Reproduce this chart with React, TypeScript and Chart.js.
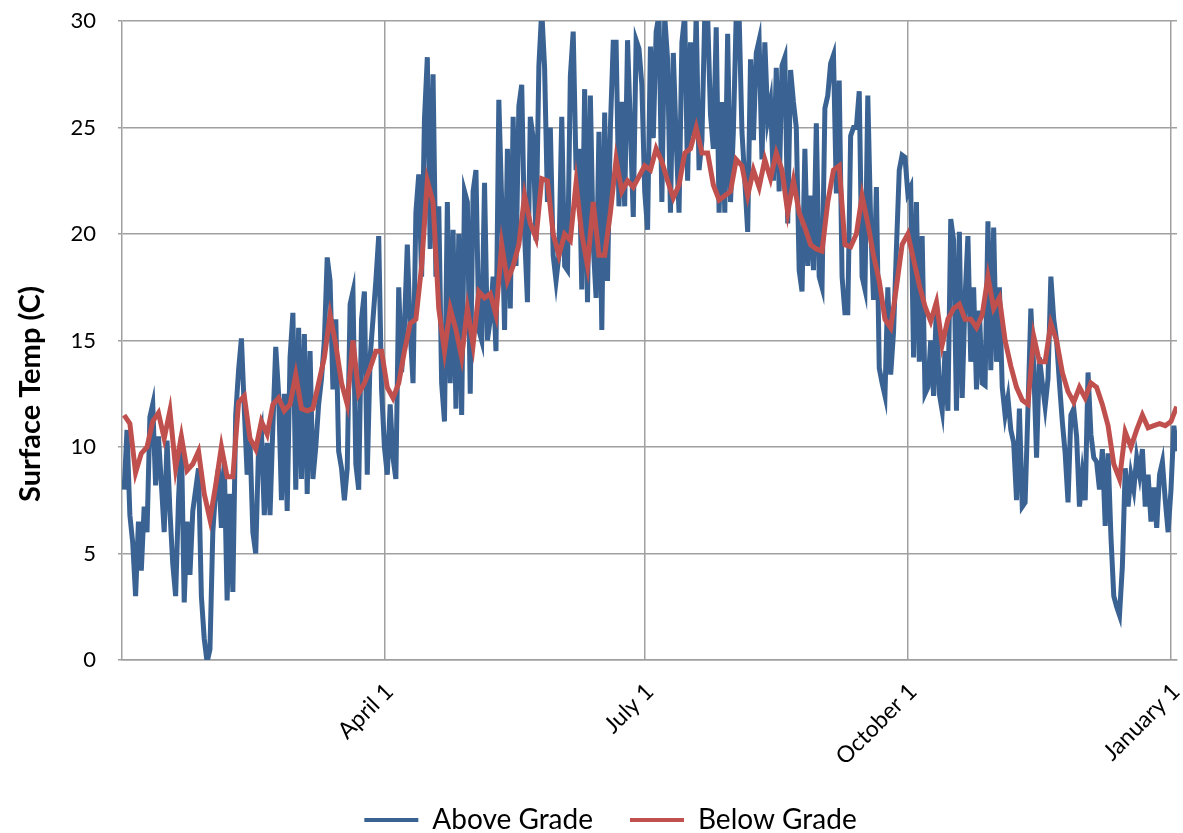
import { useEffect, useRef } from 'react';
import { Chart, registerables } from 'chart.js';

Chart.register(...registerables);

const FONT = 'Lato, "Open Sans", "DejaVu Sans", sans-serif';

// Day-of-year sampling (day 0 = January 1)
const ABOVE_START_DAY = -1;
const ABOVE_STEP_DAYS = 1;
const BELOW_START_DAY = -1;
const BELOW_STEP_DAYS = 2;

const seriesNames = ['Above Grade', 'Below Grade'];
const seriesColors = ['#3A6393', '#C0504D'];
const yAxisTitle = 'Surface Temp (C)';

const xTickDays = [90, 181, 273, 365];
const xTickLabels = ['April 1', 'July 1', 'October 1', 'January 1'];
const X_MIN_DAY = -1.75;
const X_MAX_DAY = 367.1;
const Y_MIN = 0;
const Y_MAX = 30;
const Y_STEP = 5;

// Above Grade surface temperature (C), one reading per day
const aboveGradeTemps = [
  8.0, 10.8, 6.8, 5.5, 3.0, 6.5, 4.2, 7.2, 6.0, 11.4,
  12.0, 8.2, 10.5, 8.3, 6.0, 10.3, 7.0, 4.5, 3.0, 7.5,
  10.5, 2.7, 6.5, 4.0, 7.0, 8.0, 9.0, 3.0, 1.0, -0.1,
  0.5, 6.0, 8.0, 9.0, 6.2, 9.3, 2.8, 7.8, 3.2, 11.5,
  13.6, 15.1, 11.8, 8.7, 10.3, 6.0, 5.0, 10.0, 10.7, 6.8,
  10.2, 6.8, 11.0, 14.7, 12.5, 7.5, 12.5, 7.0, 14.2, 16.3,
  8.0, 15.6, 8.5, 15.3, 7.8, 14.5, 8.5, 10.0, 12.0, 13.2,
  15.0, 18.9, 17.8, 12.7, 16.0, 9.8, 9.0, 7.5, 9.0, 16.7,
  17.3, 9.2, 8.0, 16.0, 17.3, 8.7, 14.2, 16.0, 17.8, 19.9,
  12.7, 10.0, 8.7, 12.0, 9.5, 8.5, 17.5, 13.5, 15.7, 19.5,
  15.5, 13.0, 21.0, 22.8, 18.0, 25.4, 28.3, 19.3, 27.5, 18.0,
  21.3, 13.0, 11.2, 21.5, 13.0, 20.2, 11.8, 20.0, 11.5, 22.0,
  21.5, 12.5, 22.0, 23.0, 15.5, 15.0, 22.4, 15.0, 16.0, 18.0,
  14.5, 26.3, 21.5, 15.5, 24.0, 16.5, 25.5, 18.5, 26.0, 27.0,
  20.0, 16.8, 25.5, 24.5, 19.7, 27.9, 30.5, 27.8, 21.5, 25.0,
  19.0, 17.8, 19.0, 25.5, 18.5, 18.3, 27.4, 29.5, 23.0, 24.0,
  17.4, 26.8, 16.8, 26.5, 19.5, 17.0, 24.8, 15.5, 25.7, 17.8,
  25.0, 29.0, 29.0, 21.3, 26.2, 21.3, 29.1, 25.0, 20.8, 29.1,
  28.7, 27.0, 22.0, 20.2, 28.8, 24.5, 29.5, 30.3, 21.5, 30.2,
  28.2, 21.0, 28.5, 24.4, 21.0, 29.0, 30.3, 22.5, 29.0, 24.6,
  30.3, 23.0, 24.4, 30.3, 30.3, 25.6, 24.0, 29.7, 21.0, 26.2,
  21.0, 29.4, 21.5, 24.8, 30.3, 30.3, 24.8, 22.5, 20.1, 28.2,
  24.4, 28.5, 29.1, 23.5, 29.0, 25.4, 26.2, 22.5, 27.8, 22.0,
  27.9, 28.3, 20.5, 27.7, 26.2, 25.0, 18.3, 17.3, 24.0, 18.5,
  21.8, 18.3, 25.2, 18.0, 17.5, 25.9, 26.5, 28.0, 28.4, 21.9,
  27.2, 18.0, 16.3, 16.3, 24.6, 25.0, 25.0, 26.7, 18.0, 17.4,
  26.5, 20.5, 16.9, 22.2, 13.7, 13.0, 12.4, 17.5, 13.4, 15.4,
  19.3, 23.0, 23.7, 23.6, 21.9, 22.2, 14.2, 21.5, 14.0, 19.9,
  12.5, 12.8, 15.0, 12.4, 16.8, 12.5, 11.7, 14.5, 11.7, 20.7,
  19.7, 11.7, 20.1, 12.3, 17.0, 19.9, 14.0, 17.5, 12.7, 16.4,
  13.0, 12.9, 20.6, 13.6, 20.3, 14.0, 17.5, 12.8, 11.5, 12.3,
  10.8, 10.2, 7.5, 11.8, 7.2, 7.4, 11.8, 16.5, 13.8, 9.5,
  14.2, 13.0, 11.9, 13.2, 18.0, 16.0, 15.0, 13.0, 11.2, 9.7,
  7.4, 11.5, 11.8, 10.5, 7.2, 8.7, 7.5, 13.5, 10.6, 9.5,
  9.3, 8.0, 9.9, 6.3, 9.7, 5.8, 3.0, 2.5, 2.1, 4.4,
  9.0, 7.2, 8.7, 8.0, 9.5, 8.7, 9.9, 7.2, 8.7, 6.5,
  8.1, 6.2, 8.7, 9.3, 7.5, 6.0, 8.0, 11.0, 9.8,
];

// Below Grade surface temperature (C), one reading every two days
const belowGradeTemps = [
  11.5, 11.1, 8.8, 9.7, 10.0, 11.2, 11.6, 10.4, 11.7, 9.0,
  10.5, 8.9, 9.2, 9.8, 7.8, 6.6, 8.2, 10.0, 8.6, 8.6,
  12.1, 12.4, 10.4, 9.9, 11.2, 10.6, 12.0, 12.3, 11.7, 12.0,
  13.4, 11.8, 11.7, 11.8, 13.0, 14.2, 16.2, 14.8, 13.0, 12.0,
  15.0, 12.5, 13.0, 13.7, 14.5, 14.5, 12.8, 12.3, 13.0, 14.5,
  15.8, 16.0, 18.5, 22.5, 21.5, 16.5, 14.5, 16.5, 15.5, 14.2,
  16.5, 14.8, 17.3, 17.0, 17.2, 16.2, 19.5, 17.8, 18.5, 19.5,
  21.8, 20.5, 19.8, 22.6, 22.5, 20.0, 19.0, 20.0, 19.7, 22.4,
  20.0, 18.5, 21.5, 19.0, 19.0, 21.0, 23.5, 22.0, 22.5, 22.2,
  22.7, 23.2, 23.0, 24.0, 23.4, 22.5, 21.7, 22.3, 23.8, 24.0,
  25.0, 23.8, 23.8, 22.3, 21.6, 21.8, 22.0, 23.5, 23.2, 21.8,
  23.0, 22.2, 23.5, 22.6, 23.8, 23.0, 21.0, 22.5, 21.0, 20.3,
  19.5, 19.3, 19.2, 21.5, 23.0, 23.2, 19.5, 19.4, 20.0, 21.8,
  20.5, 19.0, 17.8, 16.0, 15.6, 17.5, 19.5, 20.0, 18.8, 17.6,
  16.6, 15.9, 16.8, 14.8, 16.0, 16.5, 16.7, 16.0, 16.0, 15.6,
  16.2, 18.0, 16.5, 17.0, 15.0, 13.8, 12.8, 12.2, 12.0, 15.2,
  14.0, 14.0, 15.8, 15.0, 13.5, 12.6, 12.1, 12.8, 12.3, 13.0,
  12.8, 12.0, 11.0, 9.2, 8.5, 10.7, 10.0, 10.8, 11.5, 10.9,
  11.0, 11.1, 11.0, 11.2, 11.9,
];

const toPoints = (temps: number[], start: number, step: number) =>
  temps.map((t, i) => ({ x: start + i * step, y: t }));

const yTitlePlugin = {
  id: 'yTitlePlugin',
  beforeDraw(chart: any) {
    // shift the legend row slightly right, as in the original layout
    if (chart.legend) chart.legend.left = 44;
  },
  afterDraw(chart: any) {
    const ctx = chart.ctx;
    ctx.save();
    ctx.translate(31, 394);
    ctx.rotate(-Math.PI / 2);
    ctx.font = `bold 29px ${FONT}`;
    ctx.fillStyle = '#000000';
    ctx.textAlign = 'center';
    ctx.textBaseline = 'middle';
    ctx.fillText(yAxisTitle, 0, 0);
    ctx.restore();
  },
};

export default function App() {
  const canvasRef = useRef<HTMLCanvasElement | null>(null);

  useEffect(() => {
    if (!canvasRef.current) return;
    const gridColor = '#A0A0A0';
    const chart = new Chart(canvasRef.current, {
      type: 'line',
      data: {
        datasets: [
          {
            label: seriesNames[0],
            data: toPoints(aboveGradeTemps, ABOVE_START_DAY, ABOVE_STEP_DAYS),
            borderColor: seriesColors[0],
            backgroundColor: seriesColors[0],
            borderWidth: 5,
            pointRadius: 0,
            tension: 0,
            order: 1,
          },
          {
            label: seriesNames[1],
            data: toPoints(belowGradeTemps, BELOW_START_DAY, BELOW_STEP_DAYS),
            borderColor: seriesColors[1],
            backgroundColor: seriesColors[1],
            borderWidth: 5,
            pointRadius: 0,
            tension: 0,
            order: 0,
          },
        ],
      },
      options: {
        responsive: false,
        animation: false,
        layout: { padding: { top: 21, right: 6, bottom: -11, left: 0 } },
        plugins: {
          tooltip: { enabled: false },
          legend: {
            position: 'bottom',
            labels: {
              font: { family: FONT, size: 28 },
              color: '#000000',
              boxWidth: 54,
              boxHeight: 4,
              padding: 37,
              sort: (a: any, b: any) => a.datasetIndex - b.datasetIndex,
              generateLabels: (c: any) =>
                (Chart.defaults.plugins.legend.labels as any)
                  .generateLabels(c)
                  .map((l: any) => ({ ...l, lineWidth: 0 })),
            },
          },
        },
        scales: {
          x: {
            type: 'linear',
            min: X_MIN_DAY,
            max: X_MAX_DAY,
            afterBuildTicks: (scale: any) => {
              scale.ticks = xTickDays.map((v) => ({ value: v }));
            },
            afterFit: (scale: any) => {
              scale.height = 109;
              scale.paddingLeft = 0;
              scale.paddingRight = 0;
            },
            ticks: {
              autoSkip: false,
              minRotation: 45,
              maxRotation: 45,
              padding: 18,
              labelOffset: 5,
              color: '#000000',
              font: { family: FONT, size: 23 },
              callback: (v: any) => {
                const i = xTickDays.indexOf(Number(v));
                return i >= 0 ? xTickLabels[i] : '';
              },
            },
            grid: { color: gridColor, lineWidth: 1.5, drawTicks: false },
            border: { color: gridColor, width: 1.5 },
          },
          y: {
            min: Y_MIN,
            max: Y_MAX,
            afterFit: (scale: any) => {
              scale.width = 122;
              scale.paddingTop = 0;
              scale.paddingBottom = 0;
            },
            ticks: {
              stepSize: Y_STEP,
              padding: 22,
              color: '#000000',
              font: { family: FONT, size: 22 },
            },
            grid: { color: gridColor, lineWidth: 1.5, tickLength: 4 },
            border: { color: gridColor, width: 1.5 },
          },
        },
      },
      plugins: [yTitlePlugin],
    } as any);
    return () => chart.destroy();
  }, []);

  return (
    <div style={{ position: 'absolute', left: 0, top: 0, width: 1183, height: 833, background: '#ffffff' }}>
      <canvas ref={canvasRef} width={1183} height={833} />
    </div>
  );
}
